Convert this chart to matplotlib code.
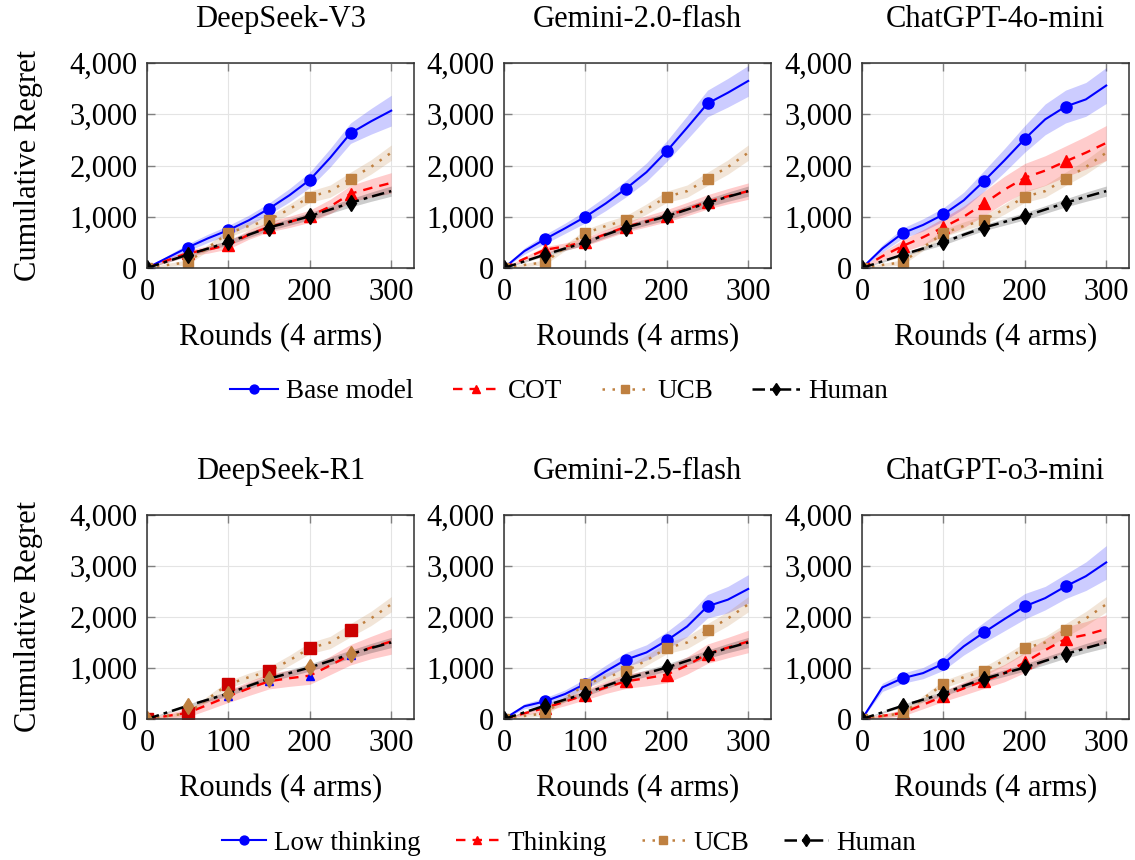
import numpy as np
import matplotlib
matplotlib.use("Agg")
import matplotlib.pyplot as plt
from matplotlib.lines import Line2D

plt.rcParams['font.family'] = ['Liberation Serif', 'DejaVu Serif']
plt.rcParams['mathtext.fontset'] = 'stix'

rounds = [0, 25, 50, 75, 100, 125, 150, 175, 200, 225, 250, 275, 300]

# shared baselines
ucb = [0, 60, 110, 400, 680, 820, 935, 1150, 1390, 1500, 1740, 1970, 2250]
ucb_sd = [0, 30, 50, 60, 70, 80, 90, 100, 110, 120, 130, 140, 150]
human = [0, 130, 260, 380, 500, 650, 790, 900, 1010, 1140, 1270, 1390, 1500]
human_sd = [0, 20, 30, 40, 50, 55, 60, 65, 70, 75, 80, 90, 100]

# top row
titles_top = ["DeepSeek-V3", "Gemini-2.0-flash", "ChatGPT-4o-mini"]
base_top = [
    [0, 200, 400, 580, 740, 930, 1160, 1420, 1720, 2150, 2630, 2860, 3070],
    [0, 330, 560, 775, 1000, 1260, 1550, 1870, 2280, 2740, 3210, 3420, 3650],
    [0, 380, 680, 840, 1045, 1320, 1700, 2100, 2520, 2900, 3150, 3290, 3560],
]
base_top_sd = [
    [0, 40, 70, 80, 90, 100, 110, 130, 150, 180, 200, 250, 300],
    [0, 60, 90, 100, 120, 140, 160, 180, 200, 230, 260, 280, 300],
    [0, 70, 100, 120, 130, 160, 200, 230, 260, 300, 320, 330, 350],
]
cot_top = [
    [0, 150, 290, 360, 450, 650, 805, 900, 1010, 1200, 1450, 1560, 1660],
    [0, 180, 355, 420, 515, 660, 805, 910, 1020, 1150, 1290, 1400, 1500],
    [0, 230, 430, 600, 795, 1000, 1260, 1530, 1760, 1900, 2080, 2250, 2440],
]
cot_top_sd = [
    [0, 40, 60, 70, 80, 90, 100, 110, 120, 140, 160, 180, 200],
    [0, 40, 60, 70, 80, 90, 100, 110, 120, 130, 140, 150, 160],
    [0, 80, 120, 150, 180, 210, 240, 260, 280, 290, 300, 320, 340],
]

# bottom row
titles_bot = ["DeepSeek-R1", "Gemini-2.5-flash", "ChatGPT-o3-mini"]
low_bot = [
    None,
    [0, 250, 345, 490, 690, 935, 1165, 1305, 1540, 1815, 2210, 2340, 2550],
    [0, 620, 800, 900, 1085, 1425, 1700, 1960, 2210, 2370, 2600, 2800, 3070],
]
low_bot_sd = [
    None,
    [0, 50, 70, 80, 100, 120, 140, 150, 170, 200, 230, 260, 280],
    [0, 80, 100, 110, 130, 170, 200, 230, 250, 230, 240, 280, 330],
]
think_bot = [
    [0, 60, 120, 280, 445, 600, 740, 800, 850, 1050, 1260, 1400, 1520],
    [0, 110, 215, 340, 477, 620, 740, 800, 870, 1050, 1280, 1400, 1520],
    [0, 60, 120, 280, 445, 600, 750, 900, 1110, 1350, 1570, 1650, 1765],
]
think_bot_sd = [
    [0, 50, 80, 100, 120, 140, 150, 160, 170, 180, 200, 220, 250],
    [0, 40, 60, 80, 100, 120, 140, 150, 160, 170, 190, 200, 220],
    [0, 40, 60, 80, 100, 130, 150, 170, 200, 220, 240, 260, 280],
]

xticks = [0, 100, 200, 300]
yticks = [0, 1000, 2000, 3000, 4000]
ytick_labels = ["0", "1,000", "2,000", "3,000", "4,000"]

BLUE = (0, 0, 1)
RED = (1, 0, 0)
BROWN = (0.75, 0.5, 0.25)
BLACK = (0, 0, 0)

FS = 22
W, H = 1135, 860
fig = plt.figure(figsize=(W / 100, H / 100), dpi=100)

col_left = [147, 504, 862]
ax_w = 267
rows = [(63, 268), (515, 719)]

x = np.array(rounds)
mk = slice(0, 11, 2)

styles = {
    'base': dict(color=BLUE, ls='-', lw=1.5, marker='o', ms=8),
    'cot': dict(color=RED, ls=(0, (4, 3)), lw=1.7, marker='^', ms=8),
    'ucb': dict(color=BROWN, ls=(0, (1, 3)), lw=1.8, marker='s', ms=7.5),
    'human': dict(color=BLACK, ls=(0, (5, 2, 1.5, 2)), lw=1.8, marker='d', ms=8),
}


def draw(ax, y, sd, key, mfc=None, ms=None):
    st = styles[key]
    y = np.array(y, float)
    sd = np.array(sd, float)
    ax.fill_between(x, y - sd, y + sd, color=st['color'], alpha=0.2, lw=0)
    c = mfc if mfc is not None else st['color']
    ax.plot(x, y, color=st['color'], ls=st['ls'], lw=st['lw'], marker=st['marker'],
            ms=ms if ms else st['ms'], mfc=c, mec=c, markevery=mk)


def style_axes(ax, ylabel):
    ax.set_xlim(0, 328)
    ax.set_ylim(0, 4000)
    ax.set_xticks(xticks)
    ax.set_yticks(yticks)
    ax.set_yticklabels(ytick_labels)
    ax.tick_params(direction='in', length=6, width=1.0, color='#808080',
                   top=True, right=True, labelsize=FS, pad=7)
    ax.grid(True, color='#e4e4e4', lw=0.8)
    ax.set_axisbelow(True)
    for s in ax.spines.values():
        s.set_color('#303030')
        s.set_linewidth(1.1)
    ax.set_xlabel("Rounds (4 arms)", fontsize=FS, labelpad=12)
    if ylabel:
        ax.set_ylabel("Cumulative Regret", fontsize=FS)
        ax.yaxis.set_label_coords(-0.39, 0.5)


for r, (top, bot) in enumerate(rows):
    for c in range(3):
        ax = fig.add_axes([col_left[c] / W, 1 - bot / H, ax_w / W, (bot - top) / H])
        if r == 0:
            draw(ax, base_top[c], base_top_sd[c], 'base')
            draw(ax, cot_top[c], cot_top_sd[c], 'cot')
            draw(ax, ucb, ucb_sd, 'ucb')
            draw(ax, human, human_sd, 'human')
            ax.set_title(titles_top[c], fontsize=FS, pad=26)
        else:
            if low_bot[c] is not None:
                draw(ax, low_bot[c], low_bot_sd[c], 'base')
                draw(ax, think_bot[c], think_bot_sd[c], 'cot')
                draw(ax, ucb, ucb_sd, 'ucb')
                draw(ax, human, human_sd, 'human')
            else:
                draw(ax, think_bot[c], think_bot_sd[c], 'cot', mfc=BLUE, ms=6)
                draw(ax, ucb, ucb_sd, 'ucb', mfc=(0.8, 0, 0), ms=9)
                draw(ax, human, human_sd, 'human', mfc=BROWN)
            ax.set_title(titles_bot[c], fontsize=FS, pad=26)
        style_axes(ax, c == 0)


def legend_handles(labels):
    hs = []
    for key, lab in zip(['base', 'cot', 'ucb', 'human'], labels):
        st = styles[key]
        hs.append(Line2D([], [], color=st['color'], ls=st['ls'], lw=st['lw'],
                         marker=st['marker'], ms=st['ms'] * 0.8,
                         mfc=st['color'], mec=st['color'], label=lab))
    return hs


for labels, xc, yc, hl, cs in [(["Base model", "COT", "UCB", "Human"], 559, 392, 1.75, 1.45),
                               (["Low thinking", "Thinking", "UCB", "Human"], 569, 843, 1.6, 1.3)]:
    fig.legend(handles=legend_handles(labels), loc='center',
               bbox_to_anchor=(xc / W, 1 - yc / H), ncol=4, frameon=False,
               fontsize=19.5, handlelength=hl, handletextpad=0.3,
               columnspacing=cs, numpoints=1, borderpad=0.2)

fig.savefig("out.png", dpi=100)
